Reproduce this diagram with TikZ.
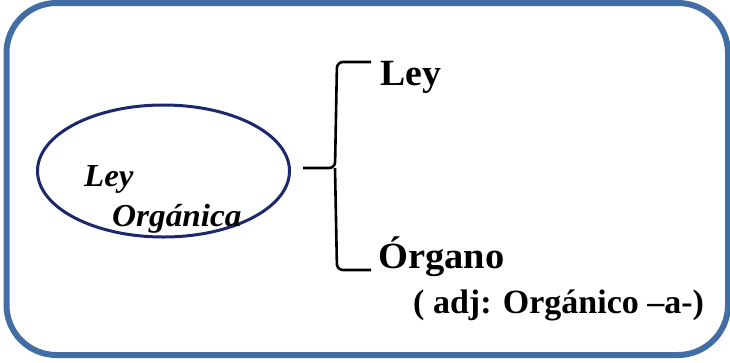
\documentclass[tikz,border=0pt]{standalone}
\usepackage{fontspec}
\setmainfont{Liberation Serif}
\usetikzlibrary{shapes.geometric}
\definecolor{frameblue}{RGB}{66,110,165}
\definecolor{navy}{RGB}{28,40,110}
\tikzset{
  frame/.style={draw=frameblue, line width=6pt, rounded corners=50pt},
  oval/.style={draw=navy, line width=3pt, ellipse, minimum width=252pt, minimum height=132pt, inner sep=0pt},
  brace/.style={draw=black, line width=2.6pt, rounded corners=6pt},
  bigword/.style={font=\fontsize{37}{40}\selectfont\bfseries, anchor=base west, inner sep=0pt},
  subword/.style={font=\fontsize{34}{36}\selectfont\bfseries, anchor=base west, inner sep=0pt},
  itword/.style={font=\fontsize{32}{34}\selectfont\bfseries\itshape, anchor=base west, inner sep=0pt}
}
\begin{document}
\begin{tikzpicture}[x=1pt,y=-1pt]
\useasboundingbox (0,0) rectangle (730,362);
\draw[frame] (6.5,3) rectangle (728,355);
\node[oval] (ell) at (163.5,171) {};
\node[itword] (ley1) at (84,186) {\scalebox{1.03}[1]{Ley}};
\node[itword] (org1) at (112,226) {\scalebox{1.04}[1]{Orgánica}};
\coordinate (bl) at (303,168);
\coordinate (bt) at (371,62);
\coordinate (bb) at (371,270);
\draw[brace] (bl) -- (335,168) -- (337,62) -- (bt);
\draw[brace] (335,168) -- (337,270) -- (bb);
\node[bigword] (ley2) at (380,85) {\scalebox{1.02}[1]{Ley}};
\node[bigword] (organo) at (378,268) {\scalebox{1.04}[1]{Órgano}};
\node[subword] (adj) at (413,313) {( adj: Orgánico –a-)};
\end{tikzpicture}
\end{document}
